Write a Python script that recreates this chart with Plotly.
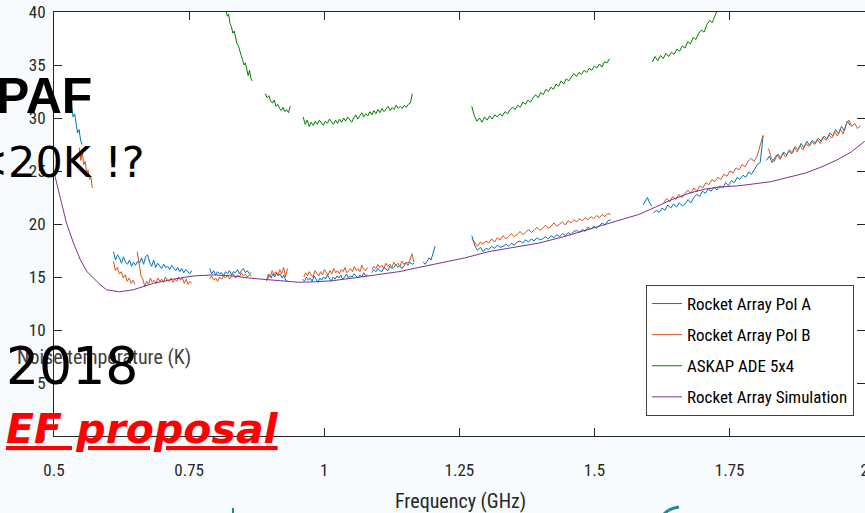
import numpy as np
import plotly.graph_objects as go

# ---------------- data ----------------
# Each segment: (f_start_GHz, f_end_GHz, [noise temperature K ...])
pol_a_segments = [
    (0.527, 0.552, [32.4, 31.5, 31.2, 30.1, 30.4, 29.2, 28.6, 28.9, 27.9, 27.5]),
    (0.610, 0.755, [17.4, 16.6, 17.1, 16.8, 16.3, 16.9, 16.4, 16.2, 16.6, 16.0,
                    16.4, 16.1, 16.5, 16.3, 16.8, 16.2, 16.9, 17.1, 16.4, 16.0,
                    16.6, 15.9, 16.3, 16.1, 15.8, 16.2, 15.9, 16.0, 15.7, 16.1,
                    15.8, 15.6, 15.9, 15.5, 15.8, 15.4, 15.7, 15.5, 15.3, 15.6]),
    (0.788, 0.865, [15.8, 15.3, 15.6, 15.2, 15.5, 15.3, 15.4, 15.1, 15.5, 15.3, 15.6,
                    15.2, 15.5, 15.4, 15.7, 15.3, 15.6, 15.8, 15.4, 15.6, 15.3, 15.4]),
    (0.895, 0.932, [14.8, 15.2, 14.9, 15.3, 15.0, 15.4, 15.1, 15.3, 14.9, 15.2, 14.7, 14.6]),
    (0.960, 1.080, [14.8, 14.6, 15.0, 14.7, 14.9, 14.6, 15.1, 14.8, 14.5, 14.9, 14.7, 15.0,
                    14.8, 15.2, 14.9, 14.6, 15.0, 14.8, 15.1, 14.9, 15.2, 14.8, 15.0, 15.3,
                    14.9, 15.1, 15.0, 15.3, 15.1, 14.9, 15.2, 15.0, 15.4, 15.1, 15.2]),
    (1.088, 1.166, [15.4, 15.7, 15.5, 15.8, 15.6, 15.5, 15.9, 15.7, 15.6, 16.0, 15.8,
                    15.9, 16.2, 15.9, 16.1, 15.8, 16.0, 16.3, 16.1, 16.4, 16.2, 16.3]),
    (1.183, 1.205, [16.4, 16.2, 16.5, 16.8, 16.6, 17.3, 17.9]),
    (1.273, 1.530, [18.9, 18.0, 17.5, 17.8, 17.4, 17.7, 17.6, 17.9, 17.7, 18.0,
                    17.8, 17.9, 18.1, 17.9, 18.2, 18.0, 18.3, 18.4, 18.2, 18.5,
                    18.3, 18.6, 18.4, 18.7, 18.5, 18.6, 18.8, 18.6, 18.9, 18.7,
                    19.0, 18.8, 19.1, 18.9, 19.2, 19.0, 19.3, 19.4, 19.2, 19.5,
                    19.3, 19.7, 19.5, 19.8, 19.6, 19.9, 20.1, 19.9, 20.3, 20.4]),
    (1.590, 1.606, [21.8, 22.2, 22.5, 22.0, 21.7]),
    (1.609, 1.812, [21.0, 21.3, 21.1, 21.5, 21.3, 21.8, 21.5, 21.9, 21.6, 22.0,
                    21.7, 21.9, 22.3, 22.0, 22.5, 22.8, 22.6, 23.1, 22.9, 23.3,
                    23.1, 23.5, 23.2, 23.6, 23.4, 23.9, 23.6, 24.1, 23.9, 24.4,
                    24.2, 24.6, 24.4, 24.9, 24.7, 25.2, 25.6, 25.8, 28.3]),
    (1.818, 1.973, [26.0, 26.4, 25.8, 26.3, 26.6, 26.2, 26.8, 26.5, 27.0, 26.7,
                    27.3, 27.0, 27.6, 27.2, 27.8, 27.4, 27.9, 27.6, 28.1, 27.8,
                    28.3, 28.0, 28.6, 28.3, 28.9, 28.5, 29.2, 28.8, 29.7, 29.3]),
]

pol_b_segments = [
    (0.547, 0.571, [27.2, 26.0, 26.8, 25.6, 25.9, 24.8, 25.1, 24.2, 24.4, 23.4]),
    (0.610, 0.650, [16.5, 15.6, 15.9, 15.3, 15.5, 14.9, 15.2, 14.6, 14.9, 14.4, 14.7, 14.3]),
    (0.654, 0.755, [17.4, 16.2, 15.1, 14.8, 14.1, 14.6, 14.3, 14.9, 14.5, 14.7,
                    14.4, 14.9, 14.6, 14.8, 14.5, 15.0, 14.7, 14.6, 14.9, 14.5,
                    14.8, 14.6, 15.0, 14.7, 14.9, 14.4, 14.8, 14.3, 14.6, 14.4]),
    (0.788, 0.865, [14.8, 15.1, 14.7, 14.9, 14.6, 15.0, 14.8, 15.1, 14.9, 15.2, 14.8,
                    15.1, 15.3, 14.9, 15.2, 15.0, 15.4, 15.1, 15.3, 15.0, 15.2, 15.1]),
    (0.893, 0.932, [14.6, 15.3, 15.0, 15.6, 15.2, 15.5, 15.1, 15.7, 15.3, 15.9, 15.0, 15.8]),
    (0.962, 1.080, [15.0, 15.4, 15.1, 15.5, 15.2, 15.0, 15.6, 15.3, 15.1, 15.5, 15.2, 15.7,
                    15.4, 15.2, 15.6, 15.3, 15.8, 15.4, 15.6, 15.3, 15.7, 15.5, 15.9, 15.4,
                    15.6, 15.8, 15.5, 16.0, 15.6, 15.8, 15.5, 16.1, 15.7, 15.6, 15.9]),
    (1.088, 1.166, [15.7, 16.0, 15.8, 16.2, 15.9, 16.1, 15.8, 16.3, 16.0, 16.2, 15.9,
                    16.4, 16.1, 16.3, 16.0, 16.5, 16.2, 16.4, 16.3, 16.6, 17.2, 16.4]),
    (1.273, 1.530, [18.6, 18.2, 17.9, 18.3, 18.1, 18.4, 18.2, 18.6, 18.3, 18.7,
                    18.5, 18.9, 18.6, 18.8, 19.1, 18.8, 19.0, 19.3, 19.0, 19.2,
                    19.5, 19.2, 19.4, 19.7, 19.4, 19.6, 19.9, 19.6, 19.8, 20.1,
                    19.8, 20.0, 20.2, 19.9, 20.3, 20.1, 20.4, 20.2, 20.5, 20.3,
                    20.6, 20.4, 20.7, 20.5, 20.8, 20.6, 20.9, 20.7, 21.0, 20.9]),
    (1.628, 1.812, [22.0, 22.4, 22.1, 22.6, 22.3, 22.8, 22.5, 22.9, 23.2, 22.9,
                    23.4, 23.1, 23.6, 23.4, 23.9, 23.7, 24.2, 24.0, 24.4, 24.2,
                    24.7, 24.5, 25.0, 24.8, 25.3, 25.1, 25.6, 25.4, 25.9, 26.2,
                    25.9, 26.4, 27.5, 28.4]),
    (1.822, 1.992, [27.1, 26.2, 25.9, 26.5, 26.1, 26.7, 26.3, 26.9, 26.6, 27.2,
                    26.8, 27.4, 27.0, 27.6, 27.3, 27.8, 27.5, 28.0, 27.6, 28.2,
                    27.9, 28.4, 28.1, 28.7, 28.3, 28.9, 28.5, 29.4, 29.8, 29.2,
                    29.5, 29.0, 29.3]),
]

askap_segments = [
    (0.818, 0.867, [40.4, 39.6, 39.8, 38.9, 38.6, 38.0, 38.2, 37.4, 37.0, 36.8,
                    36.2, 35.9, 35.5, 35.0, 35.2, 34.4, 34.0, 34.5, 33.7, 33.5]),
    (0.891, 0.937, [32.3, 31.9, 32.1, 31.6, 31.4, 31.7, 31.1, 31.3, 30.9, 30.7,
                    31.0, 30.6, 30.8, 30.5, 31.1]),
    (0.961, 1.163, [30.1, 29.4, 29.8, 29.2, 29.6, 29.3, 29.7, 29.4, 29.8, 29.5,
                    29.3, 29.7, 29.5, 29.9, 29.6, 29.4, 29.8, 29.5, 29.9, 29.6,
                    30.0, 29.7, 30.1, 29.8, 29.6, 30.0, 30.3, 29.9, 30.2, 30.5,
                    30.1, 30.4, 30.2, 30.6, 30.3, 30.7, 30.4, 30.8, 30.5, 30.9,
                    30.6, 30.8, 31.1, 30.7, 31.0, 30.8, 31.2, 30.9, 31.1, 30.9,
                    31.2, 31.0, 31.3, 31.4, 32.3]),
    (1.273, 1.528, [31.1, 30.2, 29.7, 30.0, 29.6, 30.1, 29.8, 30.2, 29.9, 30.3,
                    30.1, 30.4, 30.2, 30.6, 30.4, 30.8, 31.0, 30.8, 31.2, 31.0,
                    31.5, 31.3, 31.7, 31.5, 31.9, 32.2, 31.9, 32.4, 32.2, 32.7,
                    32.5, 32.9, 32.7, 33.2, 33.0, 33.5, 33.2, 33.7, 33.5, 33.9,
                    34.2, 33.9, 34.3, 34.1, 34.5, 34.3, 34.7, 34.5, 34.9, 34.7,
                    35.1, 34.8, 35.3, 35.2, 35.6]),
    (1.607, 1.728, [35.3, 35.8, 35.4, 35.9, 35.6, 36.1, 35.8, 36.2, 36.0, 36.5,
                    36.3, 36.8, 36.6, 37.2, 37.0, 37.6, 37.4, 38.0, 38.3, 38.1,
                    38.8, 39.2, 39.0, 39.7, 40.3]),
]

sim_freq = [0.500, 0.511, 0.523, 0.536, 0.549, 0.561, 0.573, 0.585, 0.597, 0.621,
            0.647, 0.684, 0.721, 0.758, 0.795, 0.830, 0.861, 0.892, 0.922, 0.953,
            0.984, 1.015, 1.046, 1.077, 1.108, 1.138, 1.170, 1.212, 1.260, 1.305,
            1.350, 1.397, 1.443, 1.489, 1.536, 1.582, 1.613, 1.643, 1.675, 1.705,
            1.735, 1.766, 1.797, 1.827, 1.858, 1.890, 1.921, 1.951, 1.975, 2.000]
sim_temp = [24.9, 22.6, 20.1, 18.2, 16.6, 15.5, 14.9, 14.3, 13.8, 13.6,
            13.8, 14.4, 14.8, 15.1, 15.2, 15.1, 14.9, 14.75, 14.6, 14.5,
            14.55, 14.65, 14.85, 15.05, 15.25, 15.5, 15.85, 16.3, 16.8, 17.4,
            17.8, 18.2, 18.8, 19.5, 20.2, 20.9, 21.6, 22.3, 22.9, 23.3,
            23.5, 23.6, 23.8, 24.0, 24.4, 24.8, 25.4, 26.1, 26.8, 27.8]

series_names = ["Rocket Array Pol A", "Rocket Array Pol B", "ASKAP ADE 5x4",
                "Rocket Array Simulation"]
series_colors = ["#0072BD", "#D95319", "#008000", "#7E2F8E"]

x_ticks = [0.5, 0.75, 1, 1.25, 1.5, 1.75, 2]
x_ticklabels = ["0.5", "0.75", "1", "1.25", "1.5", "1.75", "2"]
y_ticks = [0, 5, 10, 15, 20, 25, 30, 35, 40]


def join_segments(segments):
    xs, ys = [], []
    for f0, f1, vals in segments:
        xs.extend(np.linspace(f0, f1, len(vals)).tolist())
        ys.extend(vals)
        xs.append(None)
        ys.append(None)
    return xs, ys


# ---------------- figure ----------------
W, H = 865, 513
ML, MR, MT, MB = 54, 0, 12, 77
PW, PH = W - ML - MR, H - MT - MB


def px(x):  # pixel -> paper x
    return (x - ML) / PW


def py(y):  # pixel -> paper y
    return (H - MB - y) / PH


chart_font = "Liberation Sans Narrow, Arial Narrow, Roboto Condensed, DejaVu Sans Condensed, sans-serif"
ink = "#262626"
teal = "#1f8a99"

fig = go.Figure()
for i, segs in enumerate([pol_a_segments, pol_b_segments, askap_segments]):
    xs, ys = join_segments(segs)
    fig.add_trace(go.Scatter(x=xs, y=ys, mode="lines", name=series_names[i],
                             line=dict(color=series_colors[i], width=1),
                             connectgaps=False, legendgroup=str(i)))
fig.add_trace(go.Scatter(x=sim_freq, y=sim_temp, mode="lines", name=series_names[3],
                         line=dict(color=series_colors[3], width=1), legendgroup="3"))

axis_common = dict(showline=True, linecolor=ink, linewidth=1, mirror="ticks",
                   ticks="inside", ticklen=8, tickcolor=ink, tickwidth=1,
                   showgrid=False, zeroline=False, ticklabeloverflow="allow",
                   automargin=False,
                   tickfont=dict(family=chart_font, size=17, color=ink))

fig.update_xaxes(range=[0.5, 2.0005], tickvals=x_ticks, ticktext=x_ticklabels,
                 ticklabelstandoff=19, **axis_common)
fig.update_yaxes(range=[0, 40], tickvals=y_ticks, ticklabelstandoff=4, **axis_common)

fig.update_layout(
    width=W, height=H,
    margin=dict(l=ML, r=MR, t=MT, b=MB, pad=0, autoexpand=False),
    paper_bgcolor="#f7fbfd", plot_bgcolor="#ffffff",
    showlegend=True,
    legend=dict(x=px(646), y=py(285), xanchor="left", yanchor="top",
                bgcolor="#ffffff", bordercolor="#404040", borderwidth=1,
                font=dict(family=chart_font, size=17, color="#000000"),
                tracegroupgap=6, itemwidth=30),
    shapes=[
        dict(type="line", xref="paper", yref="paper", x0=px(233), x1=px(233),
             y0=py(508), y1=py(514), line=dict(color=teal, width=2)),
        dict(type="path", xref="paper", yref="paper",
             path=f"M {px(664)},{py(514)} Q {px(668)},{py(509)} {px(679)},{py(507)}",
             line=dict(color=teal, width=3)),
    ],
    annotations=[
        dict(text="Frequency (GHz)", x=px(460), y=py(501), xref="paper", yref="paper",
             xanchor="center", yanchor="middle", showarrow=False,
             font=dict(family=chart_font, size=20, color=ink)),
        dict(text="Noise temperature (K)", x=px(104), y=py(357), xref="paper", yref="paper",
             xanchor="center", yanchor="middle", showarrow=False,
             font=dict(family=chart_font, size=20, color="#404040")),
        dict(text="PAF", x=px(94), y=py(96), xref="paper", yref="paper",
             xanchor="right", yanchor="middle", showarrow=False,
             font=dict(family="Liberation Sans, Arial, sans-serif", size=50,
                       color="#000000", weight="bold")),
        dict(text="&lt;20K !?", x=px(147), y=py(162), xref="paper", yref="paper",
             xanchor="right", yanchor="middle", showarrow=False,
             font=dict(family="DejaVu Sans, sans-serif", size=43, color="#000000")),
        dict(text="2018", x=px(4), y=py(366), xref="paper", yref="paper",
             xanchor="left", yanchor="middle", showarrow=False,
             font=dict(family="DejaVu Sans, sans-serif", size=52, color="#000000")),
        dict(text="<u>EF proposal</u>", x=px(281), y=py(429),
             xref="paper", yref="paper", xanchor="right", yanchor="middle", showarrow=False,
             font=dict(family="DejaVu Sans, sans-serif", size=41, color="#ff0000",
                       weight="bold", style="italic")),
    ],
)

fig.write_html("out.html", config={"displayModeBar": False},
               post_script="document.body.style.margin='0';")
